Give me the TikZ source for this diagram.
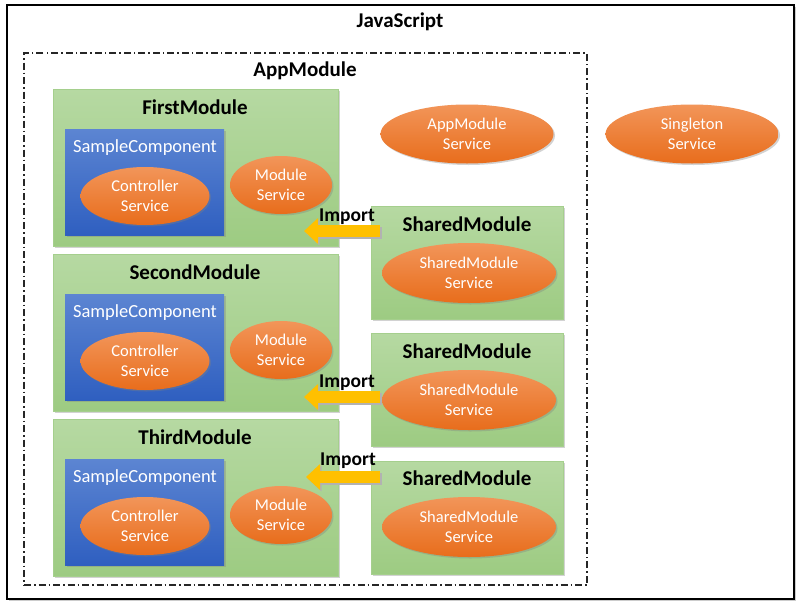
\documentclass[tikz,border=0pt]{standalone}
\usepackage{fontspec}
\setmainfont{Carlito}
\usetikzlibrary{shadows,arrows.meta,shapes.geometric}
\definecolor{grtop}{HTML}{B6D9A2}
\definecolor{grbot}{HTML}{9DCB82}
\definecolor{grline}{HTML}{A5CF8D}
\definecolor{bltop}{HTML}{5C85D2}
\definecolor{blbot}{HTML}{2F5FC0}
\definecolor{ortop}{HTML}{F29559}
\definecolor{orbot}{HTML}{E86D1C}
\definecolor{impcol}{HTML}{FFC000}
\tikzset{
  shad/.style={drop shadow={opacity=0.35,shadow xshift=1.5pt,shadow yshift=-1.5pt}},
  greenbox/.style={rectangle,draw=grline,line width=0.6pt,top color=grtop,bottom color=grbot,shad},
  bluebox/.style={rectangle,draw=none,top color=bltop,bottom color=blbot,shad},
  svc/.style={ellipse,draw=none,top color=ortop,bottom color=orbot,shad,text=white,font=\fontsize{16.5}{20}\selectfont,align=center,inner sep=0pt},
  ttl/.style={font=\bfseries\fontsize{21}{22}\selectfont,text=black},
  comp/.style={font=\fontsize{18.5}{20}\selectfont,text=white},
  imp/.style={font=\bfseries\fontsize{19.5}{20}\selectfont,text=black},
  imparrow/.style={draw=impcol,line width=12pt,-{Triangle[width=25pt,length=14pt]}},
  impshadow/.style={draw=black!30,line width=12pt,-{Triangle[width=25pt,length=14pt]},transform canvas={shift={(1.5pt,-1.5pt)}}},
}
\begin{document}
\begin{tikzpicture}[x=1pt,y=-1pt]
\useasboundingbox (0,0) rectangle (800,608);
% outer
\node[rectangle,draw=black,line width=2pt,fill=white,minimum width=787pt,minimum height=594pt,inner sep=0pt,drop shadow={opacity=0.4,shadow xshift=2pt,shadow yshift=-2pt}] (js) at (400,302) {};
\node[ttl] (jst) at (400,22) {JavaScript};
% AppModule
\node[rectangle,draw=black!85,line width=1.8pt,dash pattern=on 7pt off 3pt on 1.5pt off 3pt,minimum width=563pt,minimum height=532pt,inner sep=0pt] (app) at (305.5,319) {};
\node[ttl] (appt) at (305,71) {AppModule};
\node[svc,minimum width=173pt,minimum height=59pt] (appsvc) at (467,134) {AppModule\\Service};
\node[svc,minimum width=173pt,minimum height=59pt] (single) at (692,134) {Singleton\\Service};
% feature modules
\foreach \i/\name/\dy in {1/FirstModule/0,2/SecondModule/165,3/ThirdModule/330}{
  \node[greenbox,minimum width=285pt,minimum height=157pt,inner sep=0pt] (m\i) at (195.5,167.5+\dy) {};
  \node[ttl] (m\i t) at (195,107+\dy) {\name};
  \node[bluebox,minimum width=159pt,minimum height=106pt,inner sep=0pt] (c\i) at (144.5,182+\dy) {};
  \node[comp] (c\i t) at (145,148+\dy) {SampleComponent};
  \node[svc,minimum width=129pt,minimum height=58pt] (cs\i) at (145,196+\dy) {Controller\\Service};
  \node[svc,minimum width=102pt,minimum height=58pt] (ms\i) at (281,185+\dy) {Module\\Service};
}
% shared modules
\foreach \i/\cy/\ty/\ey in {1/262.5/224/273,2/389.5/351/400,3/517.5/478/527}{
  \node[greenbox,minimum width=192pt,minimum height=113pt,inner sep=0pt] (s\i) at (467,\cy) {};
  \node[ttl] (s\i t) at (467,\ty) {SharedModule};
  \node[svc,minimum width=174pt,minimum height=60pt] (ss\i) at (469,\ey) {SharedModule\\Service};
}
% import arrows
\coordinate (a1s) at (380,231); \coordinate (a1e) at (304,231);
\coordinate (a2s) at (380,397); \coordinate (a2e) at (304,397);
\coordinate (a3s) at (380,477); \coordinate (a3e) at (306,477);
\draw[impshadow] (a1s) -- (a1e);
\draw[impshadow] (a2s) -- (a2e);
\draw[impshadow] (a3s) -- (a3e);
\draw[imparrow] (a1s) -- (a1e);
\draw[imparrow] (a2s) -- (a2e);
\draw[imparrow] (a3s) -- (a3e);
\node[imp] (i1) at (347,217) {Import};
\node[imp] (i2) at (347,383) {Import};
\node[imp] (i3) at (348,461) {Import};
\end{tikzpicture}
\end{document}
